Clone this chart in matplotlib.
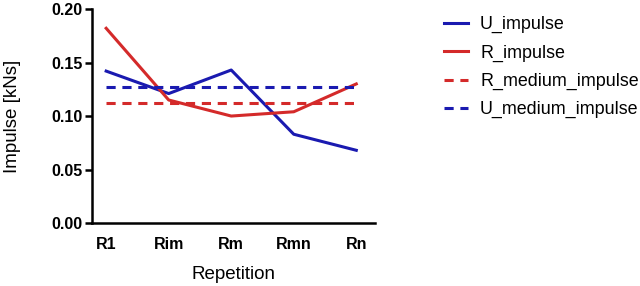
import matplotlib
matplotlib.use("Agg")
import matplotlib.pyplot as plt
import numpy as np

plt.rcParams['font.family'] = ['Liberation Sans', 'DejaVu Sans']

categories = ["R1", "Rim", "Rm", "Rmn", "Rn"]
u_impulse = [0.142, 0.121, 0.143, 0.083, 0.068]
r_impulse = [0.182, 0.115, 0.100, 0.104, 0.130]
r_medium_impulse = [0.112] * 5
u_medium_impulse = [0.127] * 5
y_ticks = [0.00, 0.05, 0.10, 0.15, 0.20]

blue = "#1a1ab0"
red = "#d42a2a"

fig = plt.figure(figsize=(6.4, 2.86), dpi=100)
ax = fig.add_axes([0.144, 0.220, 0.442, 0.7485])

x = np.arange(len(categories))
ax.plot(x, u_impulse, color=blue, lw=2.2, label="U_impulse")
ax.plot(x, r_impulse, color=red, lw=2.2, label="R_impulse")
ax.plot(x, r_medium_impulse, color=red, lw=2.2, ls=(0, (3, 2.2)), label="R_medium_impulse")
ax.plot(x, u_medium_impulse, color=blue, lw=2.2, ls=(0, (3, 2.2)), label="U_medium_impulse")

ax.set_xlim(-0.224, 4.30)
ax.set_ylim(0, 0.20)
ax.set_yticks(y_ticks)
ax.set_yticklabels([f"{v:.2f}" for v in y_ticks], fontsize=11.5, fontweight='bold')
ax.set_xticks(x)
ax.set_xticklabels(categories, fontsize=11.5, fontweight='bold')
ax.tick_params(axis='x', length=0, pad=10)
ax.tick_params(axis='y', length=5, width=1.8, direction='out', pad=2)

for s in ['top', 'right']:
    ax.spines[s].set_visible(False)
for s in ['left', 'bottom']:
    ax.spines[s].set_linewidth(1.8)

ax.set_xlabel("Repetition", fontsize=13.5, labelpad=10)
ax.set_ylabel("Impulse [kNs]", fontsize=13.5, labelpad=22)

fig.legend(loc='upper left', bbox_to_anchor=(0.669, 1.001), frameon=False,
           fontsize=12.9, handlelength=1.3, handletextpad=0.7, labelspacing=0.63)

fig.savefig("out.png", dpi=100)
